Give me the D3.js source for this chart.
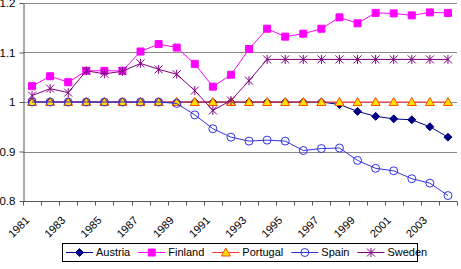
<!DOCTYPE html>
<html>
<head>
<meta charset="utf-8">
<script src="https://cdn.jsdelivr.net/npm/d3@7"></script>
<style>
  body { margin: 0; background: #fff; }
  svg { display: block; font-family: "Liberation Sans", Arial, sans-serif; }
</style>
</head>
<body>
<div id="chart"></div>
<script>
const svgWidth = 461;
const svgHeight = 269;

// data
const years = d3.range(1981, 2005);
const tickYears = d3.range(1981, 2004, 2);
const yTicks = [0.8, 0.9, 1.0, 1.1, 1.2];

const austria  = [1, 1, 1, 1, 1, 1, 1, 1, 1, 1, 1, 1, 1, 1, 1, 1, 1, 0.995, 0.981, 0.971, 0.966, 0.964, 0.950, 0.929];
const finland  = [1.032, 1.052, 1.040, 1.063, 1.063, 1.063, 1.102, 1.117, 1.110, 1.077, 1.031, 1.055, 1.107, 1.148, 1.132, 1.138, 1.148, 1.171, 1.159, 1.180, 1.179, 1.175, 1.181, 1.180];
const portugal = [1, 1, 1, 1, 1, 1, 1, 1, 1, 1, 1, 1, 1, 1, 1, 1, 1, 1, 1, 1, 1, 1, 1, 1];
const spain    = [1, 1, 1, 1, 1, 1, 1, 1, 0.997, 0.974, 0.946, 0.929, 0.921, 0.923, 0.921, 0.902, 0.906, 0.907, 0.882, 0.866, 0.861, 0.845, 0.836, 0.811];
const sweden   = [1.013, 1.027, 1.019, 1.063, 1.057, 1.062, 1.078, 1.066, 1.056, 1.023, 0.983, 1.003, 1.043, 1.086, 1.086, 1.086, 1.086, 1.086, 1.086, 1.086, 1.086, 1.086, 1.086, 1.086];

const seriesNames = ["Austria", "Finland", "Portugal", "Spain", "Sweden"];
const seriesValues = [austria, finland, portugal, spain, sweden];

const styles = {
  Austria:  { line: "#000080", marker: "diamond",  fill: "#000080", stroke: "#000080" },
  Finland:  { line: "#FF00FF", marker: "square",   fill: "#FF00FF", stroke: "#FF00FF" },
  Portugal: { line: "#FF3030", marker: "triangle", fill: "#FFE000", stroke: "#FF5000" },
  Spain:    { line: "#3333E0", marker: "circle",   fill: "none",    stroke: "#3333E0" },
  Sweden:   { line: "#800080", marker: "star",     fill: "none",    stroke: "#800080" }
};

const plot = { left: 23, right: 457, top: 3, bottom: 201 };

const svg = d3.select("#chart").append("svg")
  .attr("width", svgWidth)
  .attr("height", svgHeight);

const x = d3.scaleBand().domain(years).range([plot.left, plot.right]).padding(0);
const y = d3.scaleLinear().domain([0.8, 1.2]).range([plot.bottom, plot.top]);
const cx = d => x(d) + x.bandwidth() / 2;

// gridlines
svg.append("g").selectAll("line")
  .data(yTicks.filter(t => t > 0.8))
  .enter().append("line")
  .attr("x1", plot.left).attr("x2", plot.right)
  .attr("y1", d => Math.round(y(d)) + 0.5).attr("y2", d => Math.round(y(d)) + 0.5)
  .attr("stroke", "#8a8a8a").attr("stroke-width", 1);

// y axis
const yAxis = svg.append("g")
  .attr("transform", `translate(${plot.left + 0.5},0)`)
  .call(d3.axisLeft(y).tickValues(yTicks).tickSize(4).tickSizeOuter(0)
    .tickFormat(d => String(+d.toFixed(1))));
yAxis.select(".domain").attr("stroke", "#555");
yAxis.selectAll(".tick line").attr("stroke", "#555");
yAxis.selectAll("text").attr("font-size", 11.5).attr("fill", "#000").attr("x", -8)
  .attr("font-family", "Liberation Sans, Arial, sans-serif");

// x axis
const xAxis = svg.append("g")
  .attr("transform", `translate(0,${Math.round(plot.bottom) + 0.5})`);
xAxis.append("line")
  .attr("x1", plot.left).attr("x2", plot.right)
  .attr("stroke", "#555");
xAxis.selectAll(".xt")
  .data(years.map(d => x(d)).concat([x.range()[1]]))
  .enter().append("line")
  .attr("class", "xt")
  .attr("x1", d => Math.round(d) + 0.5).attr("x2", d => Math.round(d) + 0.5)
  .attr("y1", 0).attr("y2", 4)
  .attr("stroke", "#555");
xAxis.selectAll(".xl")
  .data(tickYears)
  .enter().append("text")
  .attr("class", "xl")
  .attr("font-size", 11)
  .attr("text-anchor", "end")
  .attr("transform", d => `translate(${cx(d) - 2},${19.5}) rotate(-45)`)
  .text(d => d);

// marker shapes
function markerPath(type) {
  switch (type) {
    case "diamond": return "M0,-4L4,0L0,4L-4,0Z";
    case "square": return "M-3.5,-3.5H3.5V3.5H-3.5Z";
    case "triangle": return "M0,-4.5L4.5,3.5H-4.5Z";
    case "circle": return d3.symbol(d3.symbolCircle, 50)();
    case "star": return "M-4,-4L4,4M-4,4L4,-4M0,-4.5V4.5";
  }
}

const line = d3.line()
  .x((d, i) => cx(years[i]))
  .y(d => y(d));

seriesNames.forEach((name, k) => {
  const st = styles[name];
  const vals = seriesValues[k];
  const g = svg.append("g").attr("class", "series");
  g.append("path")
    .datum(vals)
    .attr("d", line)
    .attr("fill", "none")
    .attr("stroke", st.line)
    .attr("stroke-width", 1);
  g.selectAll("path.m")
    .data(vals)
    .enter().append("path")
    .attr("class", "m")
    .attr("d", markerPath(st.marker))
    .attr("transform", (d, i) => `translate(${cx(years[i])},${y(d)})`)
    .attr("fill", st.fill)
    .attr("stroke", st.stroke)
    .attr("stroke-width", 1);
});

// legend
const legend = svg.append("g");
legend.append("rect")
  .attr("x", 62.5).attr("y", 243.5)
  .attr("width", 355).attr("height", 18)
  .attr("fill", "#fff").attr("stroke", "#000");

let lx = 66;
seriesNames.forEach(name => {
  const st = styles[name];
  const item = legend.append("g").attr("transform", `translate(${lx},252.5)`);
  item.append("line").attr("x1", 0).attr("x2", 27).attr("stroke", st.line);
  item.append("path")
    .attr("d", markerPath(st.marker))
    .attr("transform", "translate(13.5,0)")
    .attr("fill", st.fill).attr("stroke", st.stroke);
  const t = item.append("text")
    .attr("x", 30).attr("dy", "0.35em")
    .attr("font-size", 11)
    .text(name);
  lx += 30 + t.node().getComputedTextLength() + 8;
});
</script>
</body>
</html>
